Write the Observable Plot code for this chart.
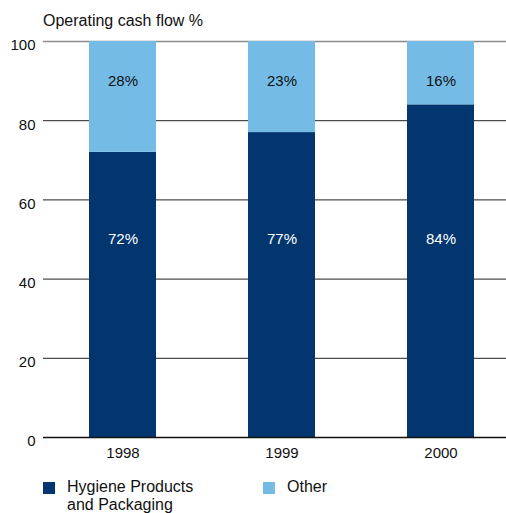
<!DOCTYPE html>
<html>
<head>
<meta charset="utf-8">
<script src="https://cdn.jsdelivr.net/npm/d3@7"></script>
<script src="https://cdn.jsdelivr.net/npm/@observablehq/plot@0.6"></script>
<style>
  html, body { margin: 0; padding: 0; background: #fff; }
  body { width: 506px; height: 513px; position: relative; overflow: hidden;
         font-family: "Liberation Sans", Arial, Helvetica, sans-serif; color: #111; }
  #title { position: absolute; left: 43px; top: 13px; font-size: 16px; line-height: 1; white-space: nowrap; }
  #chart { position: absolute; left: 0; top: 30px; }
  .leg { position: absolute; font-size: 16px; line-height: 18px; white-space: nowrap; }
  .sw { position: absolute; width: 12px; height: 12px; }
</style>
</head>
<body>
<div id="title">Operating cash flow %</div>
<div id="chart"></div>
<div id="legend"></div>
<script>
const years = ["1998", "1999", "2000"];
const seriesNames = ["Hygiene Products and Packaging", "Other"];
const legendLabels = ["Hygiene Products<br>and Packaging", "Other"];
const hygiene = [72, 77, 84];
const other = [28, 23, 16];
const colors = ["#03366f", "#74bbe6"];
const yTicks = [0, 20, 40, 60, 80, 100];

const rows = [];
years.forEach((yr, i) => {
  rows.push({year: yr, series: seriesNames[0], value: hygiene[i], label: hygiene[i] + "%"});
  rows.push({year: yr, series: seriesNames[1], value: other[i], label: other[i] + "%"});
});
const hygRows = rows.filter(d => d.series === seriesNames[0]);
const othRows = rows.filter(d => d.series === seriesNames[1]);

const font = "Liberation Sans, Arial, Helvetica, sans-serif";

const plot = Plot.plot({
  width: 506,
  height: 440,
  marginTop: 11,
  marginBottom: 33,
  marginLeft: 43,
  marginRight: 0,
  style: {fontFamily: font, fontSize: "15px", color: "#111", background: "transparent", overflow: "visible"},
  x: {domain: years, range: [43, 520], paddingInner: 0.58, paddingOuter: 0.29, label: null},
  y: {domain: [0, 100], label: null},
  color: {domain: seriesNames, range: colors},
  marks: [
    Plot.ruleY(yTicks.filter(t => t > 0 && t < 100), {stroke: "#222", strokeWidth: 1}),
    Plot.ruleY([100], {stroke: "#8a8a8a", strokeWidth: 1.5}),
    Plot.barY(rows, Plot.stackY({x: "year", y: "value", fill: "series", order: seriesNames})),
    Plot.ruleY([0], {stroke: "#111", strokeWidth: 1.5}),
    Plot.text(hygRows, {x: "year", y: () => 50, text: "label", fill: "#fff", fontSize: 15}),
    Plot.text(othRows, {x: "year", y: () => 90, text: "label", fill: "#111", fontSize: 15}),
    Plot.axisY({ticks: yTicks, tickSize: 0, tickPadding: 8, dy: 4, fontSize: 15, label: null}),
    Plot.axisX({tickSize: 0, tickPadding: 10, fontSize: 15, label: null})
  ]
});
document.getElementById("chart").appendChild(plot);

const legend = document.getElementById("legend");
const legX = [43, 263];
seriesNames.forEach((s, i) => {
  const sw = document.createElement("div");
  sw.className = "sw";
  sw.style.left = legX[i] + "px";
  sw.style.top = "482px";
  sw.style.background = colors[i];
  legend.appendChild(sw);
  const t = document.createElement("div");
  t.className = "leg";
  t.style.left = (legX[i] + 24) + "px";
  t.style.top = "478px";
  t.innerHTML = legendLabels[i];
  legend.appendChild(t);
});
</script>
</body>
</html>
